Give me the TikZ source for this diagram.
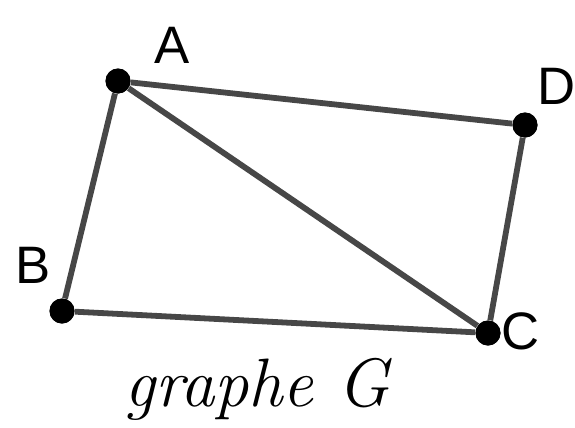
\documentclass[tikz,border=0pt]{standalone}
\usepackage{fontspec}
\newfontfamily\labelfont{Liberation Sans}
\tikzset{
    vertex/.style={circle, fill=black, inner sep=0pt, minimum size=0.5cm},
    edge/.style={line width=3.3pt, draw=black!72},
    lettre/.style={font=\labelfont\fontsize{30}{34}\selectfont, inner sep=0pt}
}
\begin{document}
\begin{tikzpicture}[x=0.02cm, y=-0.02cm]
    \useasboundingbox (0, 0) rectangle (575, 427);
    % 1. Les sommets du graphe
    \node[vertex] (A) at (118, 81) {};
    \node[vertex] (B) at (62, 311) {};
    \node[vertex] (C) at (488, 333) {};
    \node[vertex] (D) at (525, 125) {};

    % 2. Les arêtes
    \draw[edge] (A) -- (B);
    \draw[edge] (A) -- (D);
    \draw[edge] (A) -- (C);
    \draw[edge] (B) -- (C);
    \draw[edge] (D) -- (C);

    % on redessine les sommets par-dessus les arêtes
    \foreach \s in {A, B, C, D}
        \fill (\s) circle (0.25cm);

    % 3. Les noms des sommets
    \node[lettre] (lA) at (172, 45) {A};
    \node[lettre] (lB) at (33, 265) {B};
    \node[lettre] (lC) at (521, 331) {C};
    \node[lettre] (lD) at (557, 86) {D};

    % Légende
    \node[font=\fontsize{39}{43}\selectfont\itshape, inner sep=0pt] (titre) at (257, 389) {graphe G};
\end{tikzpicture}
\end{document}
